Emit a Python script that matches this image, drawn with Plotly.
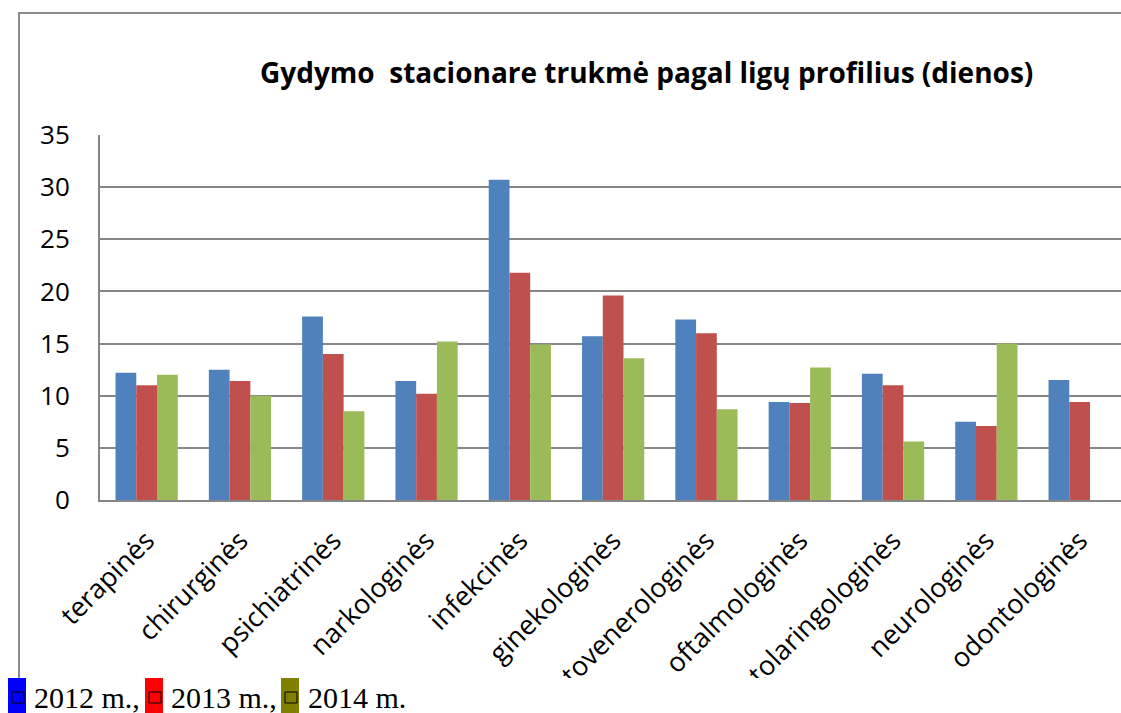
import plotly.graph_objects as go

categories = ["terapinės", "chirurginės", "psichiatrinės", "narkologinės", "infekcinės",
              "ginekologinės", "dermatovenerologinės", "oftalmologinės",
              "otolaringologinės", "neurologinės", "odontologinės"]
v2012 = [12.2, 12.5, 17.6, 11.4, 30.7, 15.7, 17.3, 9.4, 12.1, 7.5, 11.5]
v2013 = [11.0, 11.4, 14.0, 10.2, 21.8, 19.6, 16.0, 9.3, 11.0, 7.1, 9.4]
v2014 = [12.0, 10.0, 8.5, 15.2, 14.9, 13.6, 8.7, 12.7, 5.6, 15.0, None]
series_names = ["2012 m.", "2013 m.", "2014 m."]
y_ticks = [0, 5, 10, 15, 20, 25, 30, 35]

W, H = 1121, 713
L, R, T, B = 100, 0, 135, 213
PW, PH = W - L - R, H - T - B

def px(x):
    return (x - L) / PW

def py(y):
    return (H - B - y) / PH

colors = ["#4F81BD", "#C0504D", "#9BBB59"]
fig = go.Figure()
for name, vals, c in zip(series_names, [v2012, v2013, v2014], colors):
    fig.add_trace(go.Bar(x=list(range(len(categories))), y=vals, name=name,
                         marker=dict(color=c, line=dict(width=0))))

cat_w = 93.3
xmax = -0.5 + PW / cat_w

fig.update_layout(
    width=W, height=H,
    margin=dict(l=L, r=R, t=T, b=B, autoexpand=False),
    paper_bgcolor="white", plot_bgcolor="white",
    barmode="group", bargap=0.333, bargroupgap=0,
    showlegend=False,
    font=dict(family="Open Sans", color="black"),
    xaxis=dict(range=[-0.5, xmax], tickmode="array",
               tickvals=list(range(len(categories))), ticktext=categories,
               tickangle=-45, tickfont=dict(family="Open Sans", size=27, color="black"),
               showgrid=False, showline=True, linecolor="#868686", linewidth=2,
               ticks="", ticklabelstandoff=12, zeroline=False, fixedrange=True),
    yaxis=dict(range=[0, 35], tickmode="array", tickvals=y_ticks,
               tickfont=dict(family="Open Sans", size=26, color="black"),
               showgrid=True, gridcolor="#868686", gridwidth=2,
               showline=True, linecolor="#868686", linewidth=2,
               ticks="", ticklabelstandoff=23, zeroline=False, fixedrange=True),
)

shapes = []
# white band to clip labels at bottom of chart image
shapes.append(dict(type="rect", xref="paper", yref="paper", layer="above",
                   x0=px(-5), x1=px(W + 5), y0=py(H + 5), y1=py(678),
                   fillcolor="white", line=dict(width=0)))
# chart frame border
shapes.append(dict(type="path", xref="paper", yref="paper", layer="above",
                   path=f"M {px(19)} {py(678)} L {px(19)} {py(13)} L {px(W + 5)} {py(13)}",
                   line=dict(color="#8c8c8c", width=2)))
# legend boxes
legend_cols = ["#0000FF", "#FF0000", "#808000"]
box_x = [8, 145, 281]
text_x = [32, 169, 306]
for bx, c in zip(box_x, legend_cols):
    shapes.append(dict(type="rect", xref="paper", yref="paper", layer="above",
                       x0=px(bx), x1=px(bx + 18), y0=py(713), y1=py(678),
                       fillcolor=c, line=dict(width=0)))
    shapes.append(dict(type="rect", xref="paper", yref="paper", layer="above",
                       x0=px(bx + 4), x1=px(bx + 16), y0=py(703), y1=py(692),
                       fillcolor="rgba(0,0,0,0)", line=dict(color="black", width=1)))
fig.update_layout(shapes=shapes)

annotations = [dict(text="<b>Gydymo\u00a0 stacionare trukmė pagal ligų profilius (dienos)</b>",
                    xref="paper", yref="paper", x=px(646), y=py(72),
                    xanchor="center", yanchor="middle", showarrow=False,
                    font=dict(family="Open Sans", size=28, color="black"))]
for tx, name, i in zip(text_x, series_names, range(3)):
    label = name + ("," if i < 2 else "")
    annotations.append(dict(text=label, xref="paper", yref="paper",
                            x=px(tx), y=py(697), xanchor="left", yanchor="middle",
                            showarrow=False,
                            font=dict(family="Liberation Serif", size=30, color="black")))
fig.update_layout(annotations=annotations)

fig.write_html("out.html", config={"displayModeBar": False},
               post_script="document.body.style.margin='0';document.body.style.overflow='hidden';")
